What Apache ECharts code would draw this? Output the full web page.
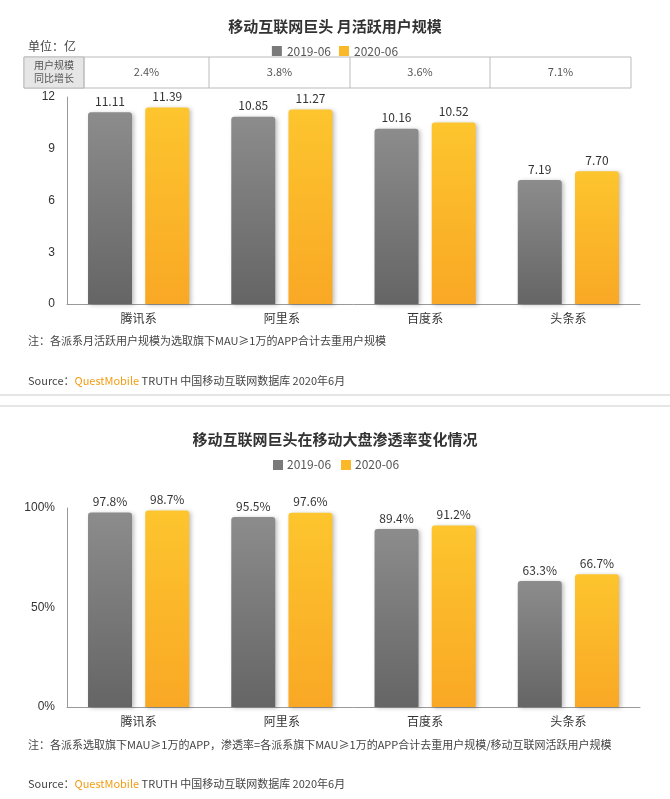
<!DOCTYPE html>
<html><head><meta charset="utf-8">
<script src="https://cdn.jsdelivr.net/npm/echarts@6/dist/echarts.min.js"></script>
<style>body{margin:0;background:#fff}#c{width:670px;height:799px}</style>
</head><body><div id="c"></div>
<script>
const categories = ['腾讯系','阿里系','百度系','头条系'];
const mau2019 = [11.11, 10.85, 10.16, 7.19];
const mau2020 = [11.39, 11.27, 10.52, 7.70];
const growth = ['2.4%','3.8%','3.6%','7.1%'];
const pen2019 = [97.8, 95.5, 89.4, 63.3];
const pen2020 = [98.7, 97.6, 91.2, 66.7];
const seriesNames = ['2019-06','2020-06'];

const F = '"Noto Sans CJK SC","Microsoft YaHei",sans-serif';
const gray = new echarts.graphic.LinearGradient(0,0,0,1,[{offset:0,color:'#8c8c8c'},{offset:1,color:'#656565'}]);
const orange = new echarts.graphic.LinearGradient(0,0,0,1,[{offset:0,color:'#fdc52e'},{offset:1,color:'#f9a825'}]);
const grayL = '#7a7a7a', orangeL = '#fbb829';

function bar(name, data, xi, color, fmt){
  return {name, type:'bar', xAxisIndex:xi, yAxisIndex:xi, data, barWidth:44, barGap:'30%',
    itemStyle:{color, borderRadius:[3,3,0,0], shadowColor:'rgba(0,0,0,0.25)', shadowBlur:4, shadowOffsetX:2, shadowOffsetY:1},
    label:{show:true, position:'top', color:'#333', fontSize:12, fontFamily:F, formatter:fmt}};
}

const tableX = [24,84,209,350,490,631];
const tableGraphics = [
  {type:'rect', shape:{x:24,y:57,width:607,height:31}, style:{fill:'#fff',stroke:'#bbb',lineWidth:1}},
  {type:'rect', shape:{x:24,y:57,width:60,height:31}, style:{fill:'#e6e6e6',stroke:'#bbb',lineWidth:1}},
  {type:'text', x:54, y:72, style:{text:'用户规模\n同比增长', fill:'#555', font:'10px '+F, align:'center', verticalAlign:'middle', lineHeight:13}}
];
for(let i=0;i<4;i++){
  tableGraphics.push({type:'line', shape:{x1:tableX[i+1],y1:57,x2:tableX[i+1],y2:88}, style:{stroke:'#bbb'}});
  tableGraphics.push({type:'text', x:(tableX[i+1]+tableX[i+2])/2, y:72, style:{text:growth[i], fill:'#555', font:'11px '+F, align:'center', verticalAlign:'middle'}});
}

const chart = echarts.init(document.getElementById('c'));
chart.setOption({
  animation:false,
  title:[
    {text:'移动互联网巨头 月活跃用户规模', left:'center', top:14, textStyle:{fontSize:15, fontWeight:'bold', color:'#333', fontFamily:F}},
    {text:'移动互联网巨头在移动大盘渗透率变化情况', left:'center', top:427, textStyle:{fontSize:15, fontWeight:'bold', color:'#333', fontFamily:F}}
  ],
  legend:[
    {data:[{name:'2019-06',itemStyle:{color:grayL}},{name:'2020-06',itemStyle:{color:orangeL}}], top:40, left:'center', icon:'rect', itemWidth:10, itemHeight:10, itemGap:8, textStyle:{fontSize:12,color:'#555',fontFamily:F}},
  ],
  grid:[
    {left:67, right:30, top:97, height:207},
    {left:67, right:30, top:508, height:199}
  ],
  xAxis:[
    {type:'category', gridIndex:0, data:categories, axisLine:{lineStyle:{color:'#999'}}, axisTick:{show:false}, axisLabel:{color:'#333',fontSize:12,fontFamily:F}},
    {type:'category', gridIndex:1, data:categories, axisLine:{lineStyle:{color:'#999'}}, axisTick:{show:false}, axisLabel:{color:'#333',fontSize:12,fontFamily:F}}
  ],
  yAxis:[
    {type:'value', gridIndex:0, min:0, max:12, interval:3, splitLine:{show:false}, axisLine:{show:true,lineStyle:{color:'#999'}}, axisLabel:{color:'#333',fontSize:12,margin:12}},
    {type:'value', gridIndex:1, min:0, max:100, interval:50, splitLine:{show:false}, axisLine:{show:true,lineStyle:{color:'#999'}}, axisLabel:{color:'#333',fontSize:12,margin:12,formatter:'{value}%'}}
  ],
  series:[
    bar(seriesNames[0], mau2019, 0, gray, p=>p.value.toFixed(2)),
    bar(seriesNames[1], mau2020, 0, orange, p=>p.value.toFixed(2)),
    bar(seriesNames[0], pen2019, 1, gray, p=>p.value.toFixed(1)+'%'),
    bar(seriesNames[1], pen2020, 1, orange, p=>p.value.toFixed(1)+'%')
  ],
  graphic:[
    {type:'text', x:28, y:40, style:{text:'单位：亿', fill:'#444', font:'12px '+F}},
    ...tableGraphics,
    {type:'text', x:28, y:335, style:{text:'注：各派系月活跃用户规模为选取旗下MAU≥1万的APP合计去重用户规模', fill:'#444', font:'11px '+F}},
    {type:'text', x:28, y:375, style:{rich:{a:{fill:'#444',font:'11px '+F},b:{fill:'#f39c12',font:'11px '+F}}, text:'{a|Source：}{b|QuestMobile}{a| TRUTH 中国移动互联网数据库 2020年6月}'}},
    {type:'line', shape:{x1:0,y1:395,x2:670,y2:395}, style:{stroke:'#ccc'}},
    {type:'line', shape:{x1:0,y1:406,x2:670,y2:406}, style:{stroke:'#ccc'}},
    {type:'rect', shape:{x:273,y:460,width:10,height:10}, style:{fill:grayL}},
    {type:'text', x:287, y:458, style:{text:'2019-06', fill:'#555', font:'12px '+F}},
    {type:'rect', shape:{x:341,y:460,width:10,height:10}, style:{fill:orangeL}},
    {type:'text', x:355, y:458, style:{text:'2020-06', fill:'#555', font:'12px '+F}},
    {type:'text', x:28, y:739, style:{text:'注：各派系选取旗下MAU≥1万的APP，渗透率=各派系旗下MAU≥1万的APP合计去重用户规模/移动互联网活跃用户规模', fill:'#444', font:'11px '+F}},
    {type:'text', x:28, y:778, style:{rich:{a:{fill:'#444',font:'11px '+F},b:{fill:'#f39c12',font:'11px '+F}}, text:'{a|Source：}{b|QuestMobile}{a| TRUTH 中国移动互联网数据库 2020年6月}'}}
  ]
});
</script></body></html>
